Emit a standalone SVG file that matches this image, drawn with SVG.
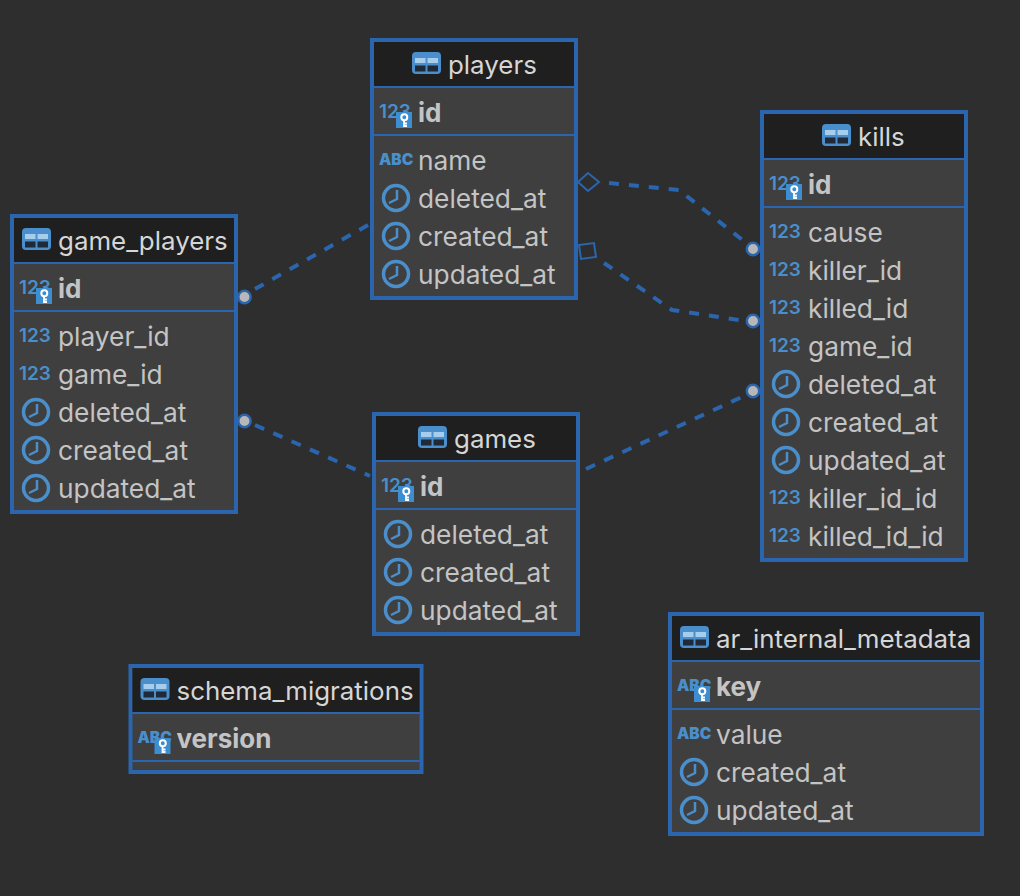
<svg xmlns="http://www.w3.org/2000/svg" width="1020" height="896" viewBox="0 0 1020 896">
<style>
text{font-family:Inter,"Liberation Sans",sans-serif}
.box{fill:#3f3f3f;stroke:#2a65ad;stroke-width:4}
.head{fill:#1f1f1f}
.sep{stroke:#2a65ad;stroke-width:2}
.t{font-size:26.300px;fill:#c4c4c4}
.k{font-size:26px;fill:#c4c4c4;font-weight:700}
.h{font-size:25.900px;fill:#d6d6d6}
.n{font-size:19px;fill:#4a8fcb;font-weight:600}
.a{font-size:15.500px;fill:#4a8fcb;font-weight:900}
.c{fill:none;stroke:#2a65ad;stroke-width:4;stroke-dasharray:10 10}
.m{fill:none;stroke:#2a65ad;stroke-width:2}
.d{fill:#b8b8b8;stroke:#2a65ad;stroke-width:2.500}
</style>
<defs>
<g id="tb"><rect x="0" y="0" width="29" height="22" rx="4" fill="#4a8fcb"/><rect x="3" y="6" width="10.500" height="5" fill="#a6cdec"/><rect x="15.500" y="6" width="10.500" height="5" fill="#a6cdec"/><rect x="3" y="13.500" width="10.500" height="6" fill="#1f2a36"/><rect x="15.500" y="13.500" width="10.500" height="6" fill="#1f2a36"/></g>
<g id="clock"><circle cx="0" cy="0" r="12.500" fill="none" stroke="#4a8fcb" stroke-width="3.500"/><path d="M1 -8V1L-7 5" fill="none" stroke="#4a8fcb" stroke-width="2.500"/></g>
<g id="key"><rect x="0" y="0" width="16" height="16" fill="#3d8dd1"/><circle cx="8.300" cy="5.300" r="3" fill="none" stroke="#fff" stroke-width="2"/><path d="M8 8V15M8 11.500H11M8 14H11" fill="none" stroke="#fff" stroke-width="1.800"/></g>
</defs>
<rect x="0" y="0" width="1020" height="896" fill="#2e2e2e"/>
<g id="connectors">
<path class="c" d="M368 225L255 289"/>
<path class="c" d="M255 425L370 476"/>
<path class="c" d="M586 469L744 396"/>
<path class="c" d="M609 183L679 190L745 242"/>
<path class="c" d="M604 263L672 310L745 321"/>
<path class="m" d="M578 182L588 173L599 182L588 191Z"/>
<path class="m" d="M579 245L594 243L596 257L581 259Z"/>
<circle class="d" cx="753" cy="249" r="6.200"/>
<circle class="d" cx="753" cy="321" r="6.200"/>
<circle class="d" cx="753" cy="391" r="6.200"/>
<circle class="d" cx="244.500" cy="297" r="6.200"/>
<circle class="d" cx="244.500" cy="421" r="6.200"/>
</g>
<g id="game_players" transform="translate(10 214)">
<rect class="box" x="2" y="2" width="224" height="296"/><rect class="head" x="4" y="4" width="220" height="44"/>
<path class="sep" d="M4 49H224M4 97H224"/>
<use href="#tb" x="12" y="14"/><text class="h" x="48" y="36">game_players</text>
<text class="n" x="9" y="80">123</text><use href="#key" x="26" y="74"/><text class="k" x="48" y="84">id</text>
<text class="n" x="9" y="128">123</text><text class="t" x="48" y="132">player_id</text>
<text class="n" x="9" y="166">123</text><text class="t" x="48" y="170">game_id</text>
<use href="#clock" x="26" y="198"/><text class="t" x="48" y="208">deleted_at</text>
<use href="#clock" x="26" y="236"/><text class="t" x="48" y="246">created_at</text>
<use href="#clock" x="26" y="274"/><text class="t" x="48" y="284">updated_at</text>
</g>
<g id="players" transform="translate(370 38)">
<rect class="box" x="2" y="2" width="204" height="258"/><rect class="head" x="4" y="4" width="200" height="44"/>
<path class="sep" d="M4 49H204M4 97H204"/>
<use href="#tb" x="42" y="14"/><text class="h" x="78" y="36">players</text>
<text class="n" x="9" y="80">123</text><use href="#key" x="26" y="74"/><text class="k" x="48" y="84">id</text>
<text class="a" x="9" y="127">ABC</text><text class="t" x="48" y="132">name</text>
<use href="#clock" x="26" y="160"/><text class="t" x="48" y="170">deleted_at</text>
<use href="#clock" x="26" y="198"/><text class="t" x="48" y="208">created_at</text>
<use href="#clock" x="26" y="236"/><text class="t" x="48" y="246">updated_at</text>
</g>
<g id="kills" transform="translate(760 110)">
<rect class="box" x="2" y="2" width="204" height="448"/><rect class="head" x="4" y="4" width="200" height="44"/>
<path class="sep" d="M4 49H204M4 97H204"/>
<use href="#tb" x="62" y="14"/><text class="h" x="98" y="36">kills</text>
<text class="n" x="9" y="80">123</text><use href="#key" x="26" y="74"/><text class="k" x="48" y="84">id</text>
<text class="n" x="9" y="128">123</text><text class="t" x="48" y="132">cause</text>
<text class="n" x="9" y="166">123</text><text class="t" x="48" y="170">killer_id</text>
<text class="n" x="9" y="204">123</text><text class="t" x="48" y="208">killed_id</text>
<text class="n" x="9" y="242">123</text><text class="t" x="48" y="246">game_id</text>
<use href="#clock" x="26" y="274"/><text class="t" x="48" y="284">deleted_at</text>
<use href="#clock" x="26" y="312"/><text class="t" x="48" y="322">created_at</text>
<use href="#clock" x="26" y="350"/><text class="t" x="48" y="360">updated_at</text>
<text class="n" x="9" y="394">123</text><text class="t" x="48" y="398">killer_id_id</text>
<text class="n" x="9" y="432">123</text><text class="t" x="48" y="436">killed_id_id</text>
</g>
<g id="games" transform="translate(372 412)">
<rect class="box" x="2" y="2" width="204" height="220"/><rect class="head" x="4" y="4" width="200" height="44"/>
<path class="sep" d="M4 49H204M4 97H204"/>
<use href="#tb" x="46" y="14"/><text class="h" x="82" y="36">games</text>
<text class="n" x="9" y="80">123</text><use href="#key" x="26" y="74"/><text class="k" x="48" y="84">id</text>
<use href="#clock" x="26" y="122"/><text class="t" x="48" y="132">deleted_at</text>
<use href="#clock" x="26" y="160"/><text class="t" x="48" y="170">created_at</text>
<use href="#clock" x="26" y="198"/><text class="t" x="48" y="208">updated_at</text>
</g>
<g id="schema_migrations" transform="translate(128.500 664)">
<rect class="box" x="2" y="2" width="291" height="106"/><rect class="head" x="4" y="4" width="287" height="44"/>
<path class="sep" d="M4 49H291M4 97H291"/>
<use href="#tb" x="12" y="14"/><text class="h" x="48" y="36">schema_migrations</text>
<text class="a" x="9" y="79">ABC</text><use href="#key" x="26" y="74"/><text class="k" x="48" y="84">version</text>
</g>
<g id="ar_internal_metadata" transform="translate(668 612)">
<rect class="box" x="2" y="2" width="312" height="220"/><rect class="head" x="4" y="4" width="308" height="44"/>
<path class="sep" d="M4 49H312M4 97H312"/>
<use href="#tb" x="12" y="14"/><text class="h" x="48" y="36">ar_internal_metadata</text>
<text class="a" x="9" y="79">ABC</text><use href="#key" x="26" y="74"/><text class="k" x="48" y="84">key</text>
<text class="a" x="9" y="127">ABC</text><text class="t" x="48" y="132">value</text>
<use href="#clock" x="26" y="160"/><text class="t" x="48" y="170">created_at</text>
<use href="#clock" x="26" y="198"/><text class="t" x="48" y="208">updated_at</text>
</g>
</svg>
